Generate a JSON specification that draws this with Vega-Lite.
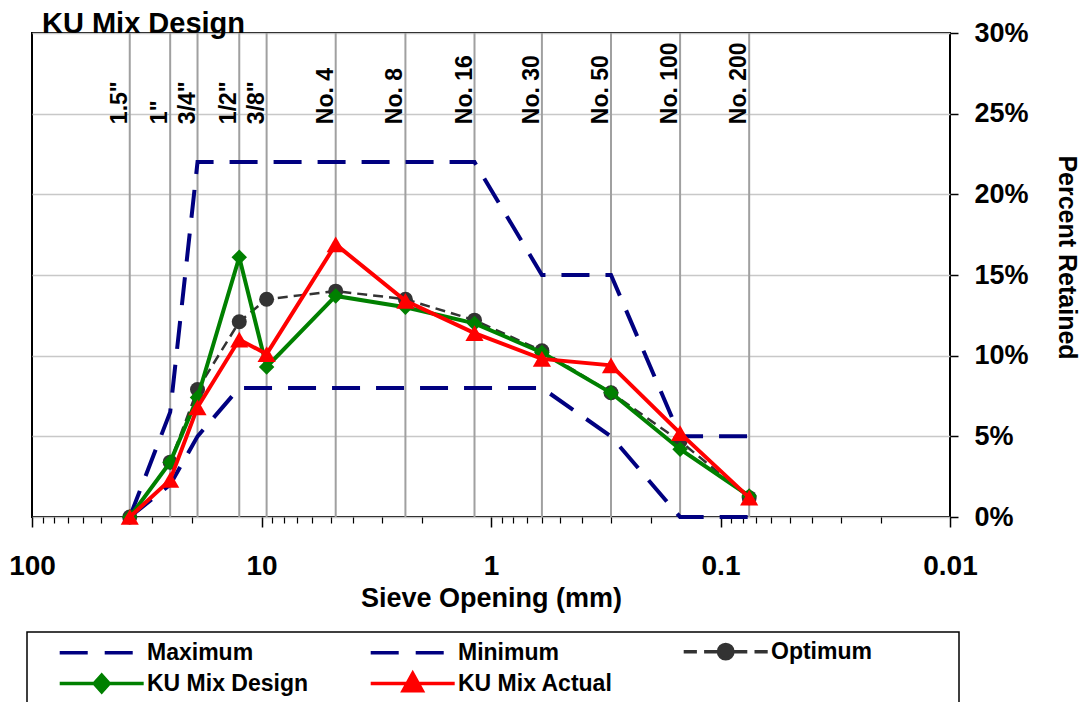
{
  "$schema": "https://vega.github.io/schema/vega-lite/v6.json",
  "width": 918,
  "height": 484,
  "autosize": {"type": "none"},
  "padding": {"left": 32, "top": 33, "right": 139, "bottom": 185},
  "background": "white",
  "title": {"text": "KU Mix Design", "anchor": "start", "frame": "group", "dx": 10, "offset": -43, "baseline": "alphabetic", "font": "Liberation Sans", "fontSize": 29, "fontWeight": "bold", "color": "black"},
  "datasets": {
    "grad": [
      {"series": "Maximum", "size": 37.5, "pct": 0},
      {"series": "Maximum", "size": 25, "pct": 0.065},
      {"series": "Maximum", "size": 19, "pct": 0.22},
      {"series": "Maximum", "size": 12.5, "pct": 0.22},
      {"series": "Maximum", "size": 9.5, "pct": 0.22},
      {"series": "Maximum", "size": 4.75, "pct": 0.22},
      {"series": "Maximum", "size": 2.36, "pct": 0.22},
      {"series": "Maximum", "size": 1.18, "pct": 0.22},
      {"series": "Maximum", "size": 0.6, "pct": 0.15},
      {"series": "Maximum", "size": 0.3, "pct": 0.15},
      {"series": "Maximum", "size": 0.15, "pct": 0.05},
      {"series": "Maximum", "size": 0.075, "pct": 0.05},
      {"series": "Minimum", "size": 37.5, "pct": 0},
      {"series": "Minimum", "size": 25, "pct": 0.02},
      {"series": "Minimum", "size": 19, "pct": 0.05},
      {"series": "Minimum", "size": 12.5, "pct": 0.08},
      {"series": "Minimum", "size": 9.5, "pct": 0.08},
      {"series": "Minimum", "size": 4.75, "pct": 0.08},
      {"series": "Minimum", "size": 2.36, "pct": 0.08},
      {"series": "Minimum", "size": 1.18, "pct": 0.08},
      {"series": "Minimum", "size": 0.6, "pct": 0.08},
      {"series": "Minimum", "size": 0.3, "pct": 0.05},
      {"series": "Minimum", "size": 0.15, "pct": 0},
      {"series": "Minimum", "size": 0.075, "pct": 0},
      {"series": "Optimum", "size": 37.5, "pct": 0},
      {"series": "Optimum", "size": 25, "pct": 0.034},
      {"series": "Optimum", "size": 19, "pct": 0.079},
      {"series": "Optimum", "size": 12.5, "pct": 0.121},
      {"series": "Optimum", "size": 9.5, "pct": 0.135},
      {"series": "Optimum", "size": 4.75, "pct": 0.14},
      {"series": "Optimum", "size": 2.36, "pct": 0.135},
      {"series": "Optimum", "size": 1.18, "pct": 0.122},
      {"series": "Optimum", "size": 0.6, "pct": 0.103},
      {"series": "Optimum", "size": 0.3, "pct": 0.077},
      {"series": "Optimum", "size": 0.15, "pct": 0.047},
      {"series": "Optimum", "size": 0.075, "pct": 0.012},
      {"series": "KU Mix Design", "size": 37.5, "pct": 0},
      {"series": "KU Mix Design", "size": 25, "pct": 0.034},
      {"series": "KU Mix Design", "size": 19, "pct": 0.074},
      {"series": "KU Mix Design", "size": 12.5, "pct": 0.161},
      {"series": "KU Mix Design", "size": 9.5, "pct": 0.093},
      {"series": "KU Mix Design", "size": 4.75, "pct": 0.137},
      {"series": "KU Mix Design", "size": 2.36, "pct": 0.13},
      {"series": "KU Mix Design", "size": 1.18, "pct": 0.12},
      {"series": "KU Mix Design", "size": 0.6, "pct": 0.102},
      {"series": "KU Mix Design", "size": 0.3, "pct": 0.077},
      {"series": "KU Mix Design", "size": 0.15, "pct": 0.042},
      {"series": "KU Mix Design", "size": 0.075, "pct": 0.013},
      {"series": "KU Mix Actual", "size": 37.5, "pct": 0},
      {"series": "KU Mix Actual", "size": 25, "pct": 0.023},
      {"series": "KU Mix Actual", "size": 19, "pct": 0.068},
      {"series": "KU Mix Actual", "size": 12.5, "pct": 0.11},
      {"series": "KU Mix Actual", "size": 9.5, "pct": 0.101},
      {"series": "KU Mix Actual", "size": 4.75, "pct": 0.169},
      {"series": "KU Mix Actual", "size": 2.36, "pct": 0.134},
      {"series": "KU Mix Actual", "size": 1.18, "pct": 0.114},
      {"series": "KU Mix Actual", "size": 0.6, "pct": 0.098},
      {"series": "KU Mix Actual", "size": 0.3, "pct": 0.094},
      {"series": "KU Mix Actual", "size": 0.15, "pct": 0.052},
      {"series": "KU Mix Actual", "size": 0.075, "pct": 0.012}
    ],
    "sieves": [
      {"label": "\u00a01.5\"", "size": 37.5},
      {"label": "\u00a0\u00a01\"", "size": 25},
      {"label": "\u00a03/4\"", "size": 19},
      {"label": "\u00a01/2\"", "size": 12.5},
      {"label": "\u00a03/8\"", "size": 9.5},
      {"label": "No. 4", "size": 4.75},
      {"label": "No. 8", "size": 2.36},
      {"label": "No. 16", "size": 1.18},
      {"label": "No. 30", "size": 0.6},
      {"label": "No. 50", "size": 0.3},
      {"label": "No. 100", "size": 0.15},
      {"label": "No. 200", "size": 0.075}
    ]
  },
  "config": {
    "view": {"stroke": "black", "strokeWidth": 2},
    "legend": {
      "orient": "none",
      "legendX": -5,
      "legendY": 599,
      "direction": "horizontal",
      "columns": 3,
      "strokeColor": "black",
      "strokeWidth": 1.5,
      "padding": 8,
      "labelFont": "Liberation Sans",
      "labelFontSize": 23,
      "labelFontWeight": "bold",
      "labelColor": "black",
      "labelLimit": 400,
      "symbolSize": 144,
      "symbolStrokeWidth": 3.5,
      "gridAlign": "each",
      "columnPadding": 37,
      "rowPadding": 0,
      "labelOffset": 89
    }
  },
  "resolve": {"axis": {"x": "independent"}},
  "layer": [
    {
      "data": {"name": "sieves"},
      "mark": {"type": "rule", "color": "#a0a0a0", "strokeWidth": 2},
      "encoding": {
        "x": {"field": "size", "type": "quantitative", "scale": {"type": "log", "domain": [0.01, 100], "reverse": true, "nice": false},
          "axis": {"orient": "bottom", "values": [90,80,70,60,50,40,30,20,9,8,7,6,5,4,3,2,0.9,0.8,0.7,0.6,0.5,0.4,0.3,0.2,0.09,0.08,0.07,0.06,0.05,0.04,0.03,0.02], "labels": false, "domain": false, "grid": false, "ticks": true, "tickSize": 6, "tickColor": "black", "tickWidth": 1.2, "title": null}}
      }
    },
    {
      "data": {"name": "sieves"},
      "mark": {"type": "text", "angle": 270, "align": "left", "baseline": "alphabetic", "dy": -3, "font": "Liberation Sans", "fontSize": 23, "fontWeight": "bold", "color": "black"},
      "encoding": {
        "x": {"field": "size", "type": "quantitative", "scale": {"type": "log", "domain": [0.01, 100], "reverse": true, "nice": false}, "axis": null},
        "y": {"datum": 0.2435, "type": "quantitative", "scale": {"domain": [0, 0.3], "nice": false}},
        "text": {"field": "label"}
      }
    },
    {
      "data": {"name": "grad"},
      "transform": [{"filter": "datum.series == 'Maximum'"}],
      "mark": {"type": "line", "color": "#000080", "strokeWidth": 4, "strokeDash": [28, 16]},
      "encoding": {
        "x": {"field": "size", "type": "quantitative", "title": "Sieve Opening (mm)", "scale": {"type": "log", "domain": [0.01, 100], "reverse": true, "nice": false},
          "axis": {"orient": "bottom", "values": [100, 10, 1, 0.1, 0.01], "format": "~g", "domain": false, "grid": false, "tickSize": 10, "tickColor": "black", "tickWidth": 1.5, "labelFont": "Liberation Sans", "labelFontSize": 28, "labelFontWeight": "bold", "labelColor": "black", "labelPadding": 25, "labelFlush": false, "labelOverlap": false, "titleFont": "Liberation Sans", "titleFontSize": 27, "titleFontWeight": "bold", "titleColor": "black", "titlePadding": 5}},
        "y": {"field": "pct", "type": "quantitative", "title": "Percent Retained", "scale": {"domain": [0, 0.3], "nice": false},
          "axis": {"orient": "right", "values": [0, 0.05, 0.1, 0.15, 0.2, 0.25, 0.3], "format": ".0%", "grid": true, "gridColor": "#c8c8c8", "gridWidth": 1.5, "domain": false, "tickSize": 8, "tickColor": "black", "tickWidth": 1.5, "labelFont": "Liberation Sans", "labelFontSize": 27, "labelFontWeight": "bold", "labelColor": "black", "labelPadding": 16, "labelFlush": false, "labelOverlap": false, "titleFont": "Liberation Sans", "titleFontSize": 25, "titleFontWeight": "bold", "titleColor": "black", "titleAngle": 90, "titlePadding": 25, "titleY": 224}}
      }
    },
    {
      "data": {"name": "grad"},
      "transform": [{"filter": "datum.series == 'Minimum'"}],
      "mark": {"type": "line", "color": "#000080", "strokeWidth": 4, "strokeDash": [28, 16]},
      "encoding": {
        "x": {"field": "size", "type": "quantitative", "scale": {"type": "log", "domain": [0.01, 100], "reverse": true, "nice": false}, "axis": null},
        "y": {"field": "pct", "type": "quantitative", "title": "Percent Retained"}
      }
    },
    {
      "data": {"name": "grad"},
      "transform": [{"filter": "datum.series == 'Optimum'"}],
      "mark": {"type": "line", "color": "#333333", "strokeWidth": 2.5, "strokeDash": [10, 6]},
      "encoding": {
        "x": {"field": "size", "type": "quantitative", "scale": {"type": "log", "domain": [0.01, 100], "reverse": true, "nice": false}, "axis": null},
        "y": {"field": "pct", "type": "quantitative", "title": "Percent Retained"}
      }
    },
    {
      "data": {"name": "grad"},
      "transform": [{"filter": "datum.series == 'Optimum'"}],
      "mark": {"type": "point", "shape": "circle", "filled": true, "size": 225, "color": "#333333", "opacity": 1},
      "encoding": {
        "x": {"field": "size", "type": "quantitative", "scale": {"type": "log", "domain": [0.01, 100], "reverse": true, "nice": false}, "axis": null},
        "y": {"field": "pct", "type": "quantitative", "title": "Percent Retained"}
      }
    },
    {
      "data": {"name": "grad"},
      "transform": [{"filter": "datum.series == 'KU Mix Design'"}],
      "mark": {"type": "line", "color": "#008000", "strokeWidth": 4},
      "encoding": {
        "x": {"field": "size", "type": "quantitative", "scale": {"type": "log", "domain": [0.01, 100], "reverse": true, "nice": false}, "axis": null},
        "y": {"field": "pct", "type": "quantitative", "title": "Percent Retained"}
      }
    },
    {
      "data": {"name": "grad"},
      "transform": [{"filter": "datum.series == 'KU Mix Design'"}],
      "mark": {"type": "point", "shape": "diamond", "filled": true, "size": 240, "color": "#008000", "opacity": 1},
      "encoding": {
        "x": {"field": "size", "type": "quantitative", "scale": {"type": "log", "domain": [0.01, 100], "reverse": true, "nice": false}, "axis": null},
        "y": {"field": "pct", "type": "quantitative", "title": "Percent Retained"}
      }
    },
    {
      "data": {"name": "grad"},
      "transform": [{"filter": "datum.series == 'KU Mix Actual'"}],
      "mark": {"type": "line", "color": "#ff0000", "strokeWidth": 4},
      "encoding": {
        "x": {"field": "size", "type": "quantitative", "scale": {"type": "log", "domain": [0.01, 100], "reverse": true, "nice": false}, "axis": null},
        "y": {"field": "pct", "type": "quantitative", "title": "Percent Retained"}
      }
    },
    {
      "data": {"name": "grad"},
      "transform": [{"filter": "datum.series == 'KU Mix Actual'"}],
      "mark": {"type": "point", "shape": "triangle-up", "filled": true, "size": 330, "color": "#ff0000", "opacity": 1},
      "encoding": {
        "x": {"field": "size", "type": "quantitative", "scale": {"type": "log", "domain": [0.01, 100], "reverse": true, "nice": false}, "axis": null},
        "y": {"field": "pct", "type": "quantitative", "title": "Percent Retained"}
      }
    },
    {
      "data": {"name": "grad"},
      "transform": [{"filter": "false"}],
      "mark": {"type": "point", "filled": true, "opacity": 1},
      "encoding": {
        "shape": {"field": "series", "type": "nominal",
          "scale": {"domain": ["Maximum", "Minimum", "Optimum", "KU Mix Design", "KU Mix Actual"],
            "range": ["M2.2,0H6.87M9.7,0H14.37", "M2.2,0H6.87M9.7,0H14.37", "M2.2,0H4.4M5.6,0H8M10.4,0H12.8M14,0H16.2M10.4,0A1.2,1.2,0,1,1,8,0A1.2,1.2,0,1,1,10.4,0ZM45.5,0h0", "M2.2,0H16.2M9.2,-1.4L10.45,0L9.2,1.4L7.95,0Z", "M2.2,0H16.2M9.2,-1.7L10.8,1.2L7.6,1.2ZM42.8,0h0"]},
          "legend": {"title": null}},
        "fill": {"field": "series", "type": "nominal",
          "scale": {"domain": ["Maximum", "Minimum", "Optimum", "KU Mix Design", "KU Mix Actual"], "range": ["#000080", "#000080", "#333333", "#008000", "#ff0000"]},
          "legend": {"title": null}},
        "stroke": {"field": "series", "type": "nominal",
          "scale": {"domain": ["Maximum", "Minimum", "Optimum", "KU Mix Design", "KU Mix Actual"], "range": ["#000080", "#000080", "#333333", "#008000", "#ff0000"]},
          "legend": {"title": null}}
      }
    }
  ]
}
